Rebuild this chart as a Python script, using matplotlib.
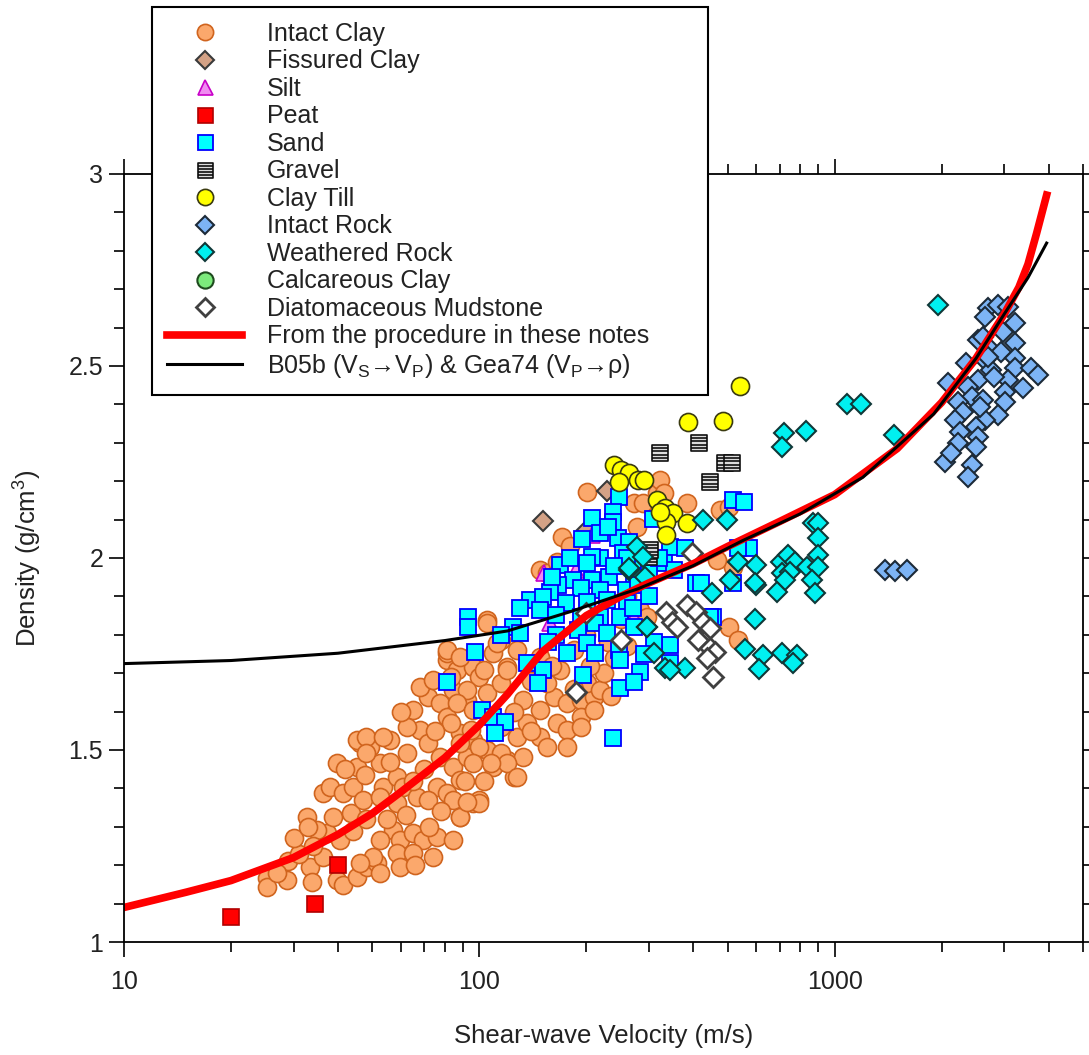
import numpy as np
import matplotlib
matplotlib.use('Agg')
import matplotlib.pyplot as plt
from matplotlib.path import Path
from matplotlib.ticker import MultipleLocator, FuncFormatter, NullFormatter

plt.rcParams['font.family'] = ['Liberation Sans', 'DejaVu Sans']
plt.rcParams['mathtext.default'] = 'regular'

# (Vs [m/s], density [g/cm3])
intact_clay = [
    (25.3, 1.167), (25.3, 1.143), (28.8, 1.161), (33.4, 1.195), (33.9, 1.156), (36.4, 1.221),
    (39.8, 1.161), (41.4, 1.148), (45.3, 1.169), (48.4, 1.195), (51.6, 1.206), (37.3, 1.284),
    (40.6, 1.266), (32.7, 1.326), (35, 1.292), (38.8, 1.326), (43.4, 1.336), (36.4, 1.388),
    (38, 1.404), (41.4, 1.388), (44.2, 1.404), (47.1, 1.37), (39.8, 1.466), (45.3, 1.456),
    (47.8, 1.435), (46.2, 1.518), (49.3, 1.508), (56.1, 1.526), (52.6, 1.466), (53.7, 1.404),
    (52.6, 1.378), (58.8, 1.43), (61.1, 1.404), (58.8, 1.362), (66.8, 1.378), (57.3, 1.292),
    (52.6, 1.266), (59.8, 1.266), (65.2, 1.284), (69.5, 1.266), (76.2, 1.273), (84.5, 1.266),
    (58.8, 1.232), (65.2, 1.232), (74.1, 1.221), (50.2, 1.221), (46.2, 1.206), (68.2, 1.552),
    (62.7, 1.492), (71.5, 1.518), (77.6, 1.482), (84.5, 1.456), (92.5, 1.482), (88.3, 1.422),
    (76.2, 1.404), (71.5, 1.37), (81.3, 1.388), (96.2, 1.362), (100, 1.37), (88.3, 1.326),
    (84.5, 1.37), (65.2, 1.604), (62.7, 1.56), (71.5, 1.638), (77.6, 1.622), (68.2, 1.664),
    (74.1, 1.682), (84.5, 1.656), (92.5, 1.63), (81.3, 1.586), (88.3, 1.544), (96.2, 1.526),
    (105, 1.5), (109, 1.456), (120, 1.474), (125, 1.43), (81.3, 1.734), (86.7, 1.708),
    (96.2, 1.716), (100, 1.69), (105, 1.648), (115, 1.674), (120, 1.716), (109, 1.753),
    (115, 1.786), (105, 1.839), (81, 1.753), (29, 1.21), (31, 1.23), (27, 1.18), (34, 1.25),
    (30, 1.27), (33, 1.30), (52.6, 1.18), (59.8, 1.195), (66, 1.2), (45.3, 1.526), (48, 1.534),
    (53.7, 1.534), (48, 1.492), (81.3, 1.76), (88.3, 1.742), (112, 1.779), (83, 1.69),
    (92.5, 1.656), (86.7, 1.622), (96.2, 1.604), (83, 1.57), (94.5, 1.552), (88.3, 1.518),
    (100, 1.508), (115, 1.492), (128, 1.534), (136, 1.57), (148, 1.604), (133, 1.63),
    (162, 1.638), (155, 1.674), (177, 1.622), (193, 1.63), (210, 1.638), (201, 1.674),
    (169, 1.708), (148, 1.742), (128, 1.76), (120, 1.708), (103, 1.708), (165, 1.57),
    (148, 1.534), (133, 1.482), (155, 1.508), (177, 1.552), (193, 1.586), (210, 1.604),
    (219, 1.656), (120, 1.466), (108, 1.466), (96.2, 1.466), (105, 1.831), (284, 1.865),
    (296, 1.846), (272, 2.143), (201, 2.172), (171, 2.055), (148, 1.969), (155, 1.96),
    (165, 1.99), (180, 2.03), (278, 2.081), (288, 2.143), (316, 2.169), (383, 2.143),
    (475, 2.125), (505, 2.133), (519, 1.977), (505, 1.82), (536, 1.786), (215, 2.081),
    (466, 1.995), (322, 2.203), (330, 2.17), (193, 1.56), (177, 1.508), (128, 1.43),
    (88, 1.326), (100, 1.362), (92.5, 1.365), (140, 1.68), (160, 1.72), (185, 1.76),
    (200, 1.8), (230, 1.78), (250, 1.84), (260, 1.9), (125, 1.6), (140, 1.55), (115, 1.56),
    (70, 1.45), (75, 1.55), (65, 1.42), (55, 1.32), (62, 1.33), (72, 1.3), (78, 1.34),
    (44, 1.29), (48, 1.32), (42, 1.45), (56, 1.47), (60, 1.6), (91, 1.42), (103, 1.42),
    (225, 1.70), (240, 1.74), (260, 1.77), (205, 1.72), (185, 1.66), (235, 1.64),
]
fissured_clay = [(151, 2.096), (228, 2.174), (201, 2.073)]
silt = [(152, 1.961), (187, 1.969), (208, 2.06), (158, 1.831), (272, 1.846)]
peat = [(20, 1.065), (34.4, 1.10), (40, 1.20)]
sand = [
    (247, 2.159), (238, 2.12), (208, 2.104), (238, 2.094), (219, 2.065), (245, 2.052),
    (309, 2.101), (263, 2.042), (219, 2.0), (208, 2.003), (253, 2.013), (169, 1.982),
    (201, 1.987), (345, 2.029), (380, 2.026), (330, 1.987), (284, 1.995), (231, 1.951),
    (184, 1.943), (167, 1.93), (208, 1.943), (219, 1.917), (193, 1.922), (158, 1.911),
    (139, 1.89), (151, 1.898), (272, 1.951), (258, 1.917), (406, 1.935), (352, 1.969),
    (175, 1.883), (201, 1.885), (229, 1.89), (261, 1.883), (130, 1.87), (148, 1.865),
    (164, 1.852), (193, 1.846), (219, 1.846), (249, 1.846), (93, 1.846), (93, 1.82),
    (124, 1.82), (115, 1.80), (130, 1.805), (164, 1.80), (189, 1.812), (212, 1.831),
    (229, 1.805), (272, 1.82), (156, 1.781), (201, 1.779), (97.5, 1.755), (177, 1.753),
    (212, 1.753), (247, 1.76), (345, 1.773), (81, 1.677), (136, 1.727), (151, 1.708),
    (146, 1.674), (196, 1.695), (249, 1.734), (284, 1.703), (345, 1.727), (249, 1.661),
    (272, 1.677), (102, 1.604), (109, 1.586), (118, 1.573), (111, 1.544), (238, 1.531),
    (456, 1.846), (519, 2.151), (557, 2.146), (575, 2.026), (536, 2.026), (519, 1.935),
    (445, 1.846), (420, 1.935), (180, 2.0), (195, 2.05), (230, 2.08), (260, 2.0),
    (280, 1.93), (300, 1.96), (320, 2.0), (310, 1.78), (290, 1.75), (300, 1.90),
    (160, 1.95), (240, 1.98), (270, 1.87),
]
gravel = [(322, 2.273), (414, 2.30), (445, 2.198), (492, 2.247), (513, 2.247), (300, 2.003), (303, 2.02)]
clay_till = [
    (543, 2.448), (386, 2.354), (484, 2.357), (240, 2.242), (250, 2.229), (263, 2.221),
    (280, 2.203), (290, 2.203), (247, 2.198), (317, 2.151), (333, 2.13), (350, 2.117),
    (336, 2.094), (385, 2.091), (336, 2.06), (322, 2.12),
]
intact_rock = [
    (2700, 2.651), (2877, 2.659), (3070, 2.654), (2650, 2.628), (3213, 2.612), (2974, 2.589),
    (2530, 2.568), (2610, 2.576), (3213, 2.56), (2752, 2.542), (2934, 2.536), (2340, 2.508),
    (2650, 2.516), (3213, 2.521), (2752, 2.49), (3213, 2.495), (3566, 2.495), (3730, 2.477),
    (3070, 2.464), (2530, 2.464), (2080, 2.456), (2380, 2.445), (3380, 2.443), (3010, 2.432),
    (2430, 2.419), (2610, 2.411), (2220, 2.406), (3010, 2.406), (2290, 2.38), (2877, 2.372),
    (2650, 2.359), (2178, 2.359), (2495, 2.341), (2260, 2.328), (2530, 2.315), (2220, 2.30),
    (2495, 2.289), (2040, 2.25), (2430, 2.242), (2380, 2.211), (2120, 2.273), (2700, 2.523),
    (2800, 2.471), (2570, 2.393), (1383, 1.969), (1475, 1.966), (1595, 1.969),
]
weathered_rock = [
    (1081, 2.401), (1184, 2.401), (1467, 2.32), (718, 2.325), (711, 2.289), (829, 2.331),
    (1950, 2.659), (425, 2.10), (497, 2.10), (871, 2.091), (900, 2.09), (897, 2.052),
    (897, 2.008), (534, 1.99), (600, 1.982), (705, 1.99), (740, 2.008), (773, 1.99),
    (834, 1.977), (897, 1.977), (711, 1.961), (750, 1.964), (506, 1.943), (725, 1.943),
    (602, 1.93), (863, 1.943), (880, 1.91), (688, 1.911), (453, 1.909), (596, 1.841),
    (561, 1.763), (627, 1.747), (614, 1.711), (711, 1.753), (781, 1.747), (763, 1.727),
    (277, 2.029), (288, 2.003), (263, 1.969), (293, 1.951), (297, 1.82), (311, 1.753),
    (333, 1.714), (380, 1.714), (263, 1.974), (296, 1.82), (345, 1.708), (598, 1.935),
]
calcareous_clay = []
diatomaceous = [
    (398, 2.013), (200, 1.857), (250, 1.786), (336, 1.859), (349, 1.833), (361, 1.82),
    (383, 1.878), (408, 1.859), (425, 1.833), (446, 1.818), (412, 1.786), (446, 1.766),
    (460, 1.755), (437, 1.74), (455, 1.69), (187, 1.651),
]

procedure_vs = [10, 15, 20, 30, 40, 50, 60, 80, 100, 120, 150, 200, 250, 300, 400, 500,
                700, 1000, 1500, 2000, 2500, 3000, 3300, 3500, 3700, 3950]
procedure_rho = [1.09, 1.13, 1.16, 1.22, 1.28, 1.335, 1.39, 1.48, 1.565, 1.645, 1.755, 1.85,
                 1.9, 1.935, 1.985, 2.03, 2.095, 2.165, 2.285, 2.405, 2.52, 2.635, 2.705, 2.765,
                 2.845, 2.945]
b05_vs = [10, 20, 40, 80, 120, 180, 280, 400, 550, 800, 1200, 1900, 2500, 3000, 3500, 3950]
b05_rho = [1.725, 1.733, 1.752, 1.785, 1.81, 1.86, 1.92, 1.98, 2.045, 2.115, 2.21, 2.375,
           2.52, 2.635, 2.73, 2.82]

# striped square for gravel
gravel_marker = Path(
    [(-1, -1), (1, -1), (1, 1), (-1, 1), (-1, -1),
     (-1, -0.6), (1, -0.6), (-1, -0.2), (1, -0.2), (-1, 0.2), (1, 0.2), (-1, 0.6), (1, 0.6)],
    [Path.MOVETO, Path.LINETO, Path.LINETO, Path.LINETO, Path.CLOSEPOLY,
     Path.MOVETO, Path.LINETO, Path.MOVETO, Path.LINETO, Path.MOVETO, Path.LINETO,
     Path.MOVETO, Path.LINETO])

series = [
    ('Intact Clay', intact_clay, 'o', 13, '#FBA86C', '#D0641E', 1.2),
    ('Fissured Clay', fissured_clay, 'D', 10.5, '#D4A286', '#3A3A3A', 1.5),
    ('Silt', silt, '^', 12, '#F08CF0', '#C800C8', 1.2),
    ('Peat', peat, 's', 12, '#FF0000', '#B00000', 1.2),
    ('Sand', sand, 's', 12, '#00FFFF', '#0000FF', 1.3),
    ('Gravel', gravel, gravel_marker, 12, '#DCDCDC', '#101010', 1.2),
    ('Clay Till', clay_till, 'o', 13, '#FFFF00', '#3A3A10', 1.2),
    ('Intact Rock', intact_rock, 'D', 10.5, '#7DB4F5', '#1C2A38', 1.5),
    ('Weathered Rock', weathered_rock, 'D', 10.5, '#00F0F0', '#103838', 1.5),
    ('Calcareous Clay', calcareous_clay, 'o', 13, '#7CEB7C', '#1E4A1E', 1.5),
    ('Diatomaceous Mudstone', diatomaceous, 'D', 10.5, '#FFFFFF', '#404040', 2.0),
]

fig = plt.figure(figsize=(10.89, 10.55), dpi=100)
ax = fig.add_axes([0.1139, 0.1071, 0.8806, 0.728])

handles = []
for label, data, marker, ms, face, edge, mew in series:
    arr = np.array(data, dtype=float).reshape(-1, 2)
    h, = ax.plot(arr[:, 0], arr[:, 1], linestyle='none', marker=marker, markersize=ms,
                 markerfacecolor=face, markeredgecolor=edge, markeredgewidth=mew, label=label)
    handles.append(h)

h_red, = ax.plot(procedure_vs, procedure_rho, color='#FF0000', lw=5.5,
                 label='From the procedure in these notes')
h_blk, = ax.plot(b05_vs, b05_rho, color='black', lw=2.2,
                 label='B05b (V$_S$→V$_P$) & Gea74 (V$_P$→ρ)')
handles += [h_red, h_blk]

ax.set_xscale('log')
ax.set_xlim(10, 5000)
ax.set_ylim(1, 3)
ax.xaxis.set_major_formatter(FuncFormatter(lambda v, p: '%d' % v))
ax.xaxis.set_minor_formatter(NullFormatter())
ax.yaxis.set_major_locator(MultipleLocator(0.5))
ax.yaxis.set_minor_locator(MultipleLocator(0.1))
ax.yaxis.set_major_formatter(FuncFormatter(lambda v, p: '%g' % v))

ax.tick_params(which='major', direction='out', length=11, width=1.2, top=True, right=True,
               labelsize=18, labelcolor='#222222')
ax.tick_params(which='minor', direction='out', length=7, width=1.2, top=True, right=True)
ax.tick_params(axis='x', which='major', pad=9)
ax.tick_params(axis='y', which='major', pad=4)
for sp in ax.spines.values():
    sp.set_linewidth(1.3)

ax.set_xlabel('Shear-wave Velocity (m/s)', fontsize=18.5, color='#222222', labelpad=22)
ax.set_ylabel('Density (g/cm$^3$)', fontsize=18.5, color='#222222', labelpad=18)

leg = fig.legend(handles, [h.get_label() for h in handles], loc='upper left',
                 bbox_to_anchor=(0.1396, 0.6313, 0.5106, 0.3621), mode='expand',
                 borderaxespad=0, fontsize=18, handlelength=3.0, handletextpad=1.0,
                 labelspacing=0.14, borderpad=0.6, fancybox=False, framealpha=1,
                 markerscale=0.9)
leg.get_frame().set_edgecolor('black')
leg.get_frame().set_linewidth(1.5)
for t in leg.get_texts():
    t.set_color('#222222')

fig.savefig('out.png', dpi=100)
